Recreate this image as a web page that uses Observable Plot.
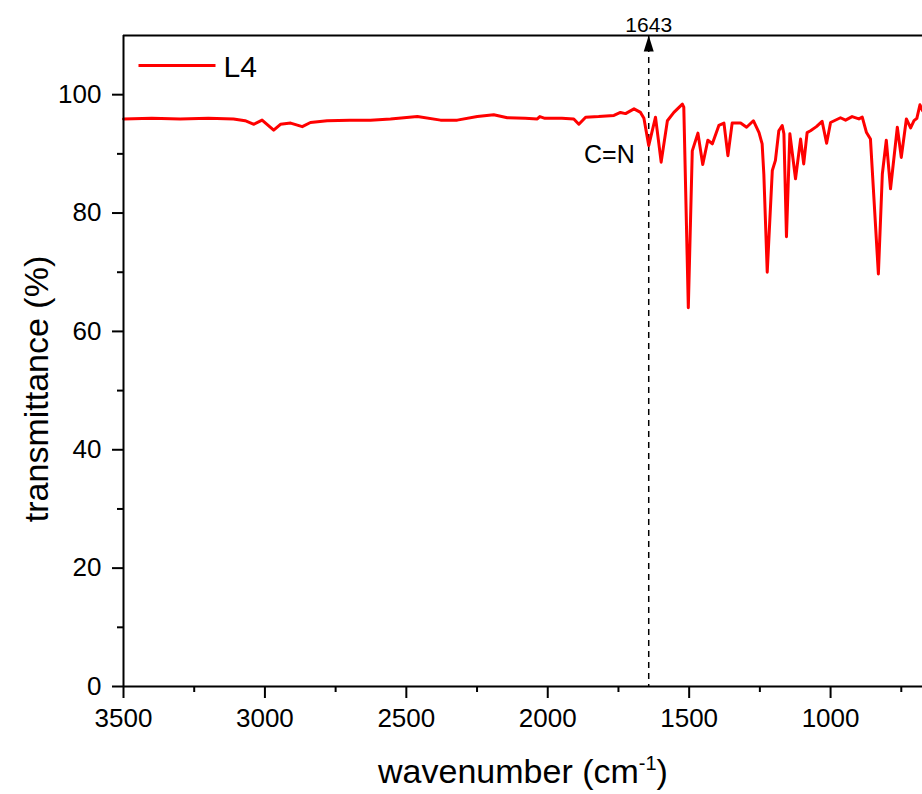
<!DOCTYPE html>
<html>
<head>
<meta charset="utf-8">
<script src="https://cdn.jsdelivr.net/npm/d3@7"></script>
<script src="https://cdn.jsdelivr.net/npm/@observablehq/plot@0.6"></script>
<style>
  html, body { margin: 0; padding: 0; background: #fff; }
  #chart svg { display: block; font-family: "Liberation Sans", Arial, sans-serif; }
</style>
</head>
<body>
<div id="chart"></div>
<script>
// ---- data ----
const seriesName = "L4";
const wavenumber = [
  3500, 3400, 3300, 3200, 3111, 3070, 3039, 3010, 2969, 2945, 2909, 2868, 2839, 2780, 2700,
  2627, 2556, 2461, 2379, 2320, 2249, 2191, 2143, 2080, 2037, 2028, 2010, 1950, 1908, 1890,
  1866, 1820, 1766, 1743, 1725, 1695, 1672, 1660, 1643, 1619, 1599, 1577, 1554, 1524, 1519,
  1503, 1489, 1469, 1452, 1434, 1418, 1395, 1377, 1363, 1348, 1318, 1297, 1273, 1253, 1242,
  1236, 1224, 1206, 1195, 1183, 1171, 1165, 1156, 1144, 1124, 1106, 1095, 1083, 1071, 1050,
  1030, 1014, 1000, 965, 947, 924, 900, 888, 873, 859, 831, 817, 803, 788, 764,
  750, 732, 717, 705, 695, 684, 675
];
const transmittance = [
  95.9, 96.0, 95.9, 96.0, 95.9, 95.6, 95.0, 95.7, 94.0, 95.0, 95.2, 94.6, 95.3, 95.6, 95.7,
  95.7, 95.9, 96.3, 95.7, 95.7, 96.3, 96.6, 96.1, 96.0, 95.9, 96.3, 96.0, 96.0, 95.9, 95.0,
  96.2, 96.3, 96.5, 97.0, 96.8, 97.6, 97.0, 96.0, 91.4, 96.2, 88.6, 95.6, 97.0, 98.4, 97.9,
  64.0, 90.5, 93.5, 88.2, 92.3, 91.7, 94.8, 95.2, 89.7, 95.2, 95.2, 94.5, 95.6, 93.6, 91.7,
  86.6, 70.0, 87.2, 88.9, 93.9, 94.8, 93.4, 76.0, 93.4, 85.8, 92.5, 88.3, 93.6, 93.9, 94.6,
  95.5, 91.8, 95.3, 96.1, 95.7, 96.3, 95.9, 96.2, 93.6, 92.5, 69.7, 86.6, 92.3, 84.1, 94.5,
  89.4, 95.9, 94.4, 95.6, 96.0, 98.3, 97.3
];
const xDomain = [3500, 675];
const yDomain = [0, 110];
const xMajorTicks = [3500, 3000, 2500, 2000, 1500, 1000];
const xMinorTicks = [3250, 2750, 2250, 1750, 1250, 750];
const yMajorTicks = [0, 20, 40, 60, 80, 100];
const yMinorTicks = [10, 30, 50, 70, 90];
const annotationWn = [1643];
const annotationTop = ["1643"];
const annotationLabel = ["C=N"];
const xTitle = "wavenumber (cm-1)";
const yTitle = "transmittance (%)";

// ---- table built from the arrays ----
const spectrum = wavenumber.map((w, i) => ({w, t: transmittance[i]}));
const annoTable = annotationWn.map((w, i) => {
  const near = spectrum.reduce((a, b) => Math.abs(b.w - w) < Math.abs(a.w - w) ? b : a);
  return {w, top: annotationTop[i], label: annotationLabel[i], t: near.t, yTop: yDomain[1]};
});

const RED = "#ff0000";
const lineSymbol = {
  draw(ctx, size) { const r = Math.sqrt(size / Math.PI); ctx.moveTo(-r, 0); ctx.lineTo(r, 0); }
};
const arrowSymbol = {
  draw(ctx) { ctx.moveTo(0, 0); ctx.lineTo(5, 16); ctx.lineTo(-5, 16); ctx.closePath(); }
};

const chart = Plot.plot({
  width: 922,
  height: 794,
  marginLeft: 123,
  marginRight: 0,
  marginTop: 35,
  marginBottom: 108,
  style: {fontFamily: '"Liberation Sans", Arial, sans-serif', background: "#fff", color: "#000"},
  x: {domain: xDomain, axis: null},
  y: {domain: yDomain, axis: null},
  marks: [
    // annotation dashed line
    Plot.ruleX(annoTable, {x: "w", stroke: "#000", strokeWidth: 1.5, strokeDasharray: "6,5"}),
    // spectrum
    Plot.line(spectrum, {x: "w", y: "t", stroke: RED, strokeWidth: 3, strokeLinejoin: "round", strokeLinecap: "round"}),
    // frame lines
    Plot.ruleY([yDomain[0]], {stroke: "#000", strokeWidth: 2}),
    Plot.ruleY([yDomain[1]], {stroke: "#000", strokeWidth: 2}),
    Plot.ruleX([xDomain[0]], {stroke: "#000", strokeWidth: 2}),
    // axes
    Plot.axisX({ticks: xMajorTicks, tickSize: 12, tickPadding: 10, fontSize: 26, strokeWidth: 2, label: null, tickFormat: d => String(d)}),
    Plot.axisX({ticks: xMinorTicks, tickSize: 6, strokeWidth: 2, label: null, tickFormat: () => ""}),
    Plot.axisY({ticks: yMajorTicks, tickSize: 11, tickPadding: 11, fontSize: 26, strokeWidth: 2, label: null, tickFormat: d => String(d)}),
    Plot.axisY({ticks: yMinorTicks, tickSize: 6, strokeWidth: 2, label: null, tickFormat: () => ""}),
    // axis titles
    Plot.text([xTitle], {frameAnchor: "bottom", dy: 86, fontSize: 34, textAnchor: "middle", lineAnchor: "middle", fill: "#000"}),
    Plot.text([yTitle], {frameAnchor: "left", dx: -86, dy: 28, rotate: -90, fontSize: 34, textAnchor: "middle", lineAnchor: "middle", fill: "#000"}),
    // annotation arrow + labels
    Plot.dot(annoTable, {x: "w", y: "yTop", symbol: arrowSymbol, r: 5, fill: "#000", stroke: "none"}),
    Plot.text(annoTable, {x: "w", y: "yTop", text: "top", dy: -4, lineAnchor: "bottom", fontSize: 21, fill: "#000"}),
    Plot.text(annoTable, {x: "w", y: "t", text: "label", dx: -14, dy: 9, textAnchor: "end", lineAnchor: "middle", fontSize: 25, fill: "#000"}),
    // legend
    Plot.dot([seriesName], {frameAnchor: "top-left", dx: 53.5, dy: 30, r: 38.5, symbol: lineSymbol, stroke: RED, strokeWidth: 3, fill: "none"}),
    Plot.text([seriesName], {frameAnchor: "top-left", dx: 100, dy: 32, textAnchor: "start", lineAnchor: "middle", fontSize: 30, fill: "#000"})
  ]
});

// superscript in the x title
const xt = Array.from(chart.querySelectorAll("text")).find(t => t.textContent === xTitle);
if (xt) {
  const ns = "http://www.w3.org/2000/svg";
  while (xt.firstChild) xt.removeChild(xt.firstChild);
  const a = document.createElementNS(ns, "tspan"); a.textContent = "wavenumber (cm";
  const s = document.createElementNS(ns, "tspan"); s.textContent = "-1"; s.setAttribute("font-size", "20"); s.setAttribute("dy", "-13");
  const c = document.createElementNS(ns, "tspan"); c.textContent = ")"; c.setAttribute("dy", "13");
  xt.append(a, s, c);
}

document.getElementById("chart").append(chart);
</script>
</body>
</html>
